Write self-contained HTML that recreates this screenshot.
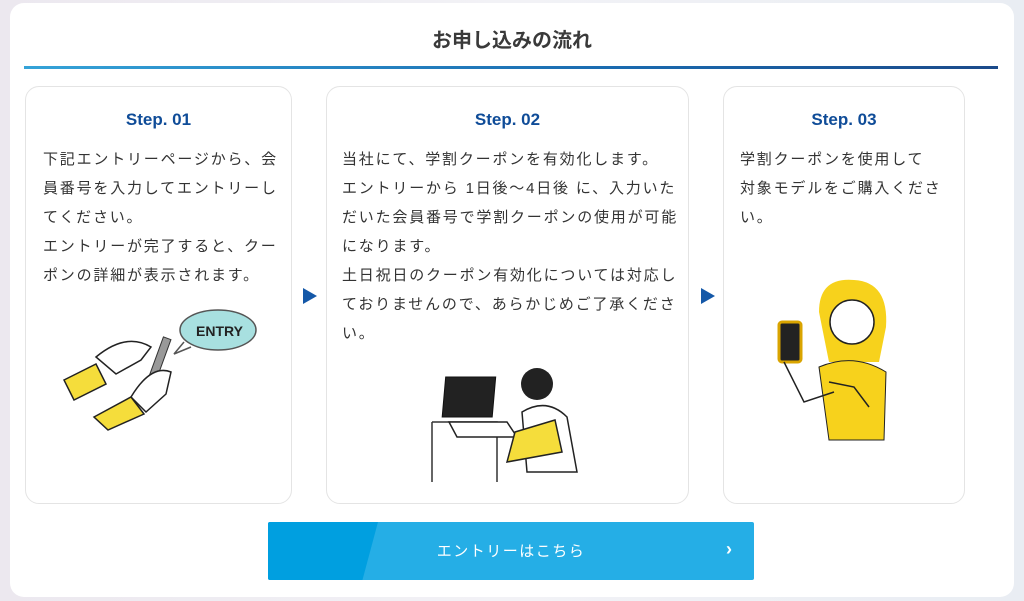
<!DOCTYPE html>
<html><head><meta charset="utf-8"><style>
html,body{margin:0;padding:0}
body{width:1024px;height:601px;background:linear-gradient(90deg,#ece8ef,#f2f2f6 50%,#e9edf3);position:relative;overflow:hidden;font-family:"Liberation Sans","Noto Sans CJK JP",sans-serif;}
.card{position:absolute;left:10px;top:3px;width:1004px;height:594px;background:#fff;border-radius:14px;}
.title{position:absolute;left:0;width:1024px;top:24px;text-align:center;font-size:20px;font-weight:bold;color:#3a3a3a;}
.line{position:absolute;left:24px;top:66px;width:974px;height:3px;background:linear-gradient(90deg,#35a3d8,#1a6bb0 60%,#1b4a8a);}
.box{position:absolute;top:86px;height:418px;border:1px solid #e4e4e4;border-radius:14px;background:#fff;box-sizing:border-box;}
.box h3{margin:0;position:absolute;top:23px;left:0;right:0;text-align:center;font-size:17px;color:#0f4c98;font-weight:bold;}
.box p{margin:0;position:absolute;top:58px;font-size:15px;line-height:29px;color:#333;letter-spacing:1.8px;white-space:nowrap;}
.arr{position:absolute;width:0;height:0;border-left:14px solid #1458a8;border-top:8px solid transparent;border-bottom:8px solid transparent;}
.btn{position:absolute;left:268px;top:522px;width:486px;height:58px;background:#25aee6;overflow:hidden;border-radius:2px;}
.btn .dk{position:absolute;left:0;top:0;width:110px;height:58px;background:#009fe0;transform:skewX(-15deg);transform-origin:top left;}
.btn span{position:absolute;left:0;right:0;top:18px;text-align:center;color:#fff;font-size:15px;letter-spacing:1.5px;}
.btn i{position:absolute;right:22px;top:17px;color:#fff;font-style:normal;font-size:18px;font-weight:bold;}
</style></head><body>
<div class="card"></div>
<div class="title">お申し込みの流れ</div>
<div class="line"></div>

<div class="box" style="left:25px;width:267px;">
<h3>Step. 01</h3>
<p style="left:17px;">下記エントリーページから、会<br>員番号を入力してエントリーし<br>てください。<br>エントリーが完了すると、クー<br>ポンの詳細が表示されます。</p>
<svg style="position:absolute;left:30px;top:215px" width="210" height="130" viewBox="0 0 210 130">
<ellipse cx="162" cy="28" rx="38" ry="20" fill="#a8e0e0" stroke="#555" stroke-width="1.5"/>
<path d="M128 40 L118 52 L135 45" fill="#fff" stroke="#555" stroke-width="1.5"/>
<text x="140" y="34" font-size="14" font-weight="bold" fill="#222" font-family="Liberation Sans,sans-serif">ENTRY</text>
<rect x="100" y="35" width="8" height="42" fill="#999" stroke="#333" transform="rotate(20 104 56)"/>
<path d="M40 55 Q70 30 95 45 L85 58 L60 72 Z" fill="#fff" stroke="#222" stroke-width="1.5"/>
<path d="M8 78 L40 62 L50 82 L18 98 Z" fill="#f5dd3b" stroke="#222" stroke-width="1.5"/>
<path d="M75 95 Q95 62 115 70 L110 92 L90 110 Z" fill="#fff" stroke="#222" stroke-width="1.5"/>
<path d="M38 115 L75 95 L88 112 L52 128 Z" fill="#f5dd3b" stroke="#222" stroke-width="1.5"/>
</svg>
</div>

<div class="arr" style="left:303px;top:288px"></div>

<div class="box" style="left:326px;width:363px;">
<h3>Step. 02</h3>
<p style="left:15px;">当社にて、学割クーポンを有効化します。<br>エントリーから 1日後〜4日後 に、入力いた<br>だいた会員番号で学割クーポンの使用が可能<br>になります。<br>土日祝日のクーポン有効化については対応し<br>ておりませんので、あらかじめご了承くださ<br>い。</p>
<svg style="position:absolute;left:100px;top:275px" width="160" height="125" viewBox="0 0 160 125">
<path d="M5 60 L5 120 M5 60 L70 60 L70 120" fill="none" stroke="#333" stroke-width="1.5"/>
<rect x="20" y="15" width="50" height="40" fill="#222" stroke="#111" transform="skewX(-5)"/>
<path d="M22 60 L80 60 L90 75 L30 75 Z" fill="#fff" stroke="#222" stroke-width="1.5"/>
<circle cx="110" cy="22" r="16" fill="#222"/>
<path d="M95 50 Q120 35 140 55 L150 110 L100 110 Z" fill="#fff" stroke="#222" stroke-width="1.5"/>
<path d="M88 70 L128 58 L135 90 L80 100 Z" fill="#f5dd3b" stroke="#222" stroke-width="1.5"/>
</svg>
</div>

<div class="arr" style="left:701px;top:288px"></div>

<div class="box" style="left:723px;width:242px;">
<h3>Step. 03</h3>
<p style="left:16px;">学割クーポンを使用して<br>対象モデルをご購入くださ<br>い。</p>
<svg style="position:absolute;left:50px;top:185px" width="130" height="170" viewBox="0 0 130 170">
<path d="M45 40 Q45 5 80 8 Q115 10 112 55 L105 90 L55 90 Z" fill="#f7d21c"/>
<circle cx="78" cy="50" r="22" fill="#fff" stroke="#222" stroke-width="1.5"/>
<path d="M45 95 Q80 80 112 100 L110 168 L55 168 Z" fill="#f7d21c" stroke="#222" stroke-width="1"/>
<rect x="5" y="50" width="22" height="40" rx="3" fill="#222" stroke="#d9a400" stroke-width="3"/>
<path d="M10 90 L30 130 L60 120" fill="none" stroke="#222" stroke-width="1.5"/>
<path d="M55 110 L80 115 L95 135" fill="none" stroke="#222" stroke-width="1.5"/>
</svg>
</div>

<div class="btn"><div class="dk"></div><span>エントリーはこちら</span><i>›</i></div>
</body></html>
